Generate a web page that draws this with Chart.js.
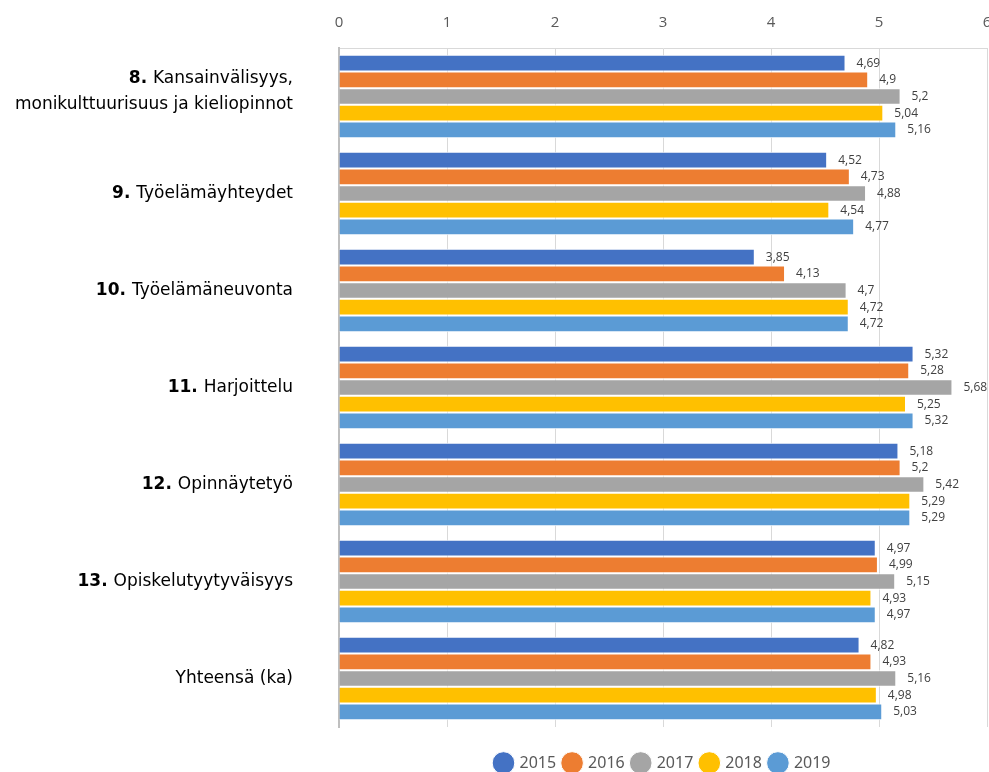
<!DOCTYPE html>
<html>
<head>
<meta charset="utf-8">
<script src="https://cdn.jsdelivr.net/npm/chart.js@4"></script>
<style>
  html, body { margin: 0; padding: 0; background: #fff; }
  #wrap { width: 989px; height: 772px; }
</style>
</head>
<body>
<div id="wrap"><canvas id="c"></canvas></div>
<script>
// Category labels: bold number prefix + plain text (second line optional)
const categoryNumbers = ['8.', '9.', '10.', '11.', '12.', '13.', ''];
const categoryTexts = [
  ['Kansainvälisyys,', 'monikulttuurisuus ja kieliopinnot'],
  ['Työelämäyhteydet'],
  ['Työelämäneuvonta'],
  ['Harjoittelu'],
  ['Opinnäytetyö'],
  ['Opiskelutyytyväisyys'],
  ['Yhteensä (ka)']
];
const years = ['2015', '2016', '2017', '2018', '2019'];
const values2015 = [4.69, 4.52, 3.85, 5.32, 5.18, 4.97, 4.82];
const values2016 = [4.9, 4.73, 4.13, 5.28, 5.2, 4.99, 4.93];
const values2017 = [5.2, 4.88, 4.7, 5.68, 5.42, 5.15, 5.16];
const values2018 = [5.04, 4.54, 4.72, 5.25, 5.29, 4.93, 4.98];
const values2019 = [5.16, 4.77, 4.72, 5.32, 5.29, 4.97, 5.03];
const xTicks = [0, 1, 2, 3, 4, 5, 6];

const seriesValues = [values2015, values2016, values2017, values2018, values2019];
const seriesColors = ['#4472C4', '#ED7D31', '#A5A5A5', '#FFC000', '#5B9BD5'];

const LABEL_FONT = '"DejaVu Sans", sans-serif';
const NUM_FONT = '"Open Sans", sans-serif';

// Draws the category names on the left with a bold number prefix
const categoryLabels = {
  id: 'categoryLabels',
  afterDraw(chart) {
    const ctx = chart.ctx;
    const y = chart.scales.y;
    const right = chart.chartArea.left - 46;
    ctx.save();
    ctx.fillStyle = '#000';
    ctx.textBaseline = 'middle';
    categoryTexts.forEach((lines, i) => {
      const cy = y.getPixelForValue(i);
      const lh = 26;
      const startY = cy - (lines.length - 1) * lh / 2 - (lines.length > 1 ? 5 : 0);
      lines.forEach((line, j) => {
        const ly = startY + j * lh;
        ctx.font = '17px ' + LABEL_FONT;
        const w = ctx.measureText(line).width;
        ctx.textAlign = 'right';
        ctx.fillText(line, right, ly);
        if (j === 0 && categoryNumbers[i]) {
          ctx.font = 'bold 17px ' + LABEL_FONT;
          ctx.fillText(categoryNumbers[i] + ' ', right - w, ly);
        }
      });
    });
    ctx.restore();
  }
};

// Writes each bar's value just past its end
const valueLabels = {
  id: 'valueLabels',
  afterDatasetsDraw(chart) {
    const ctx = chart.ctx;
    ctx.save();
    ctx.font = '12px ' + NUM_FONT;
    ctx.fillStyle = '#404040';
    ctx.textAlign = 'left';
    ctx.textBaseline = 'middle';
    chart.data.datasets.forEach((ds, di) => {
      const meta = chart.getDatasetMeta(di);
      meta.data.forEach((bar, i) => {
        const txt = String(ds.data[i]).replace('.', ',');
        ctx.fillText(txt, bar.x + 11, bar.y);
      });
    });
    ctx.restore();
  }
};

// Moves the legend down a little inside the space kept below the plot
const legendOffset = {
  id: 'legendOffset',
  afterLayout(chart) {
    const lg = chart.legend;
    if (lg) { lg.top += 20; lg.bottom += 20; }
  }
};

new Chart(document.getElementById('c'), {
  type: 'bar',
  data: {
    labels: categoryTexts.map((t, i) => (categoryNumbers[i] + ' ' + t.join(' ')).trim()),
    datasets: years.map((yr, k) => ({
      label: yr,
      data: seriesValues[k],
      backgroundColor: seriesColors[k],
      borderColor: '#ffffff',
      borderWidth: 1,
      categoryPercentage: 0.86,
      barPercentage: 1.0
    }))
  },
  options: {
    indexAxis: 'y',
    responsive: true,
    maintainAspectRatio: false,
    animation: false,
    layout: { padding: { left: 0, right: 2, top: 0, bottom: 11 } },
    scales: {
      x: {
        position: 'top',
        min: 0,
        max: 6,
        afterBuildTicks: s => { s.ticks = xTicks.map(v => ({ value: v })); },
        afterFit: s => { s.height = 48; s.paddingLeft = 0; s.paddingRight = 0; },
        grid: { color: '#D9D9D9', drawTicks: false, lineWidth: 1 },
        border: { display: true, color: '#D9D9D9' },
        ticks: { color: '#595959', font: { family: NUM_FONT, size: 15 }, padding: 16 }
      },
      y: {
        afterFit: s => { s.width = 339; },
        ticks: { display: false },
        grid: { display: false },
        border: { display: true, color: '#BFBFBF', width: 2 }
      }
    },
    plugins: {
      legend: {
        position: 'bottom',
        fullSize: false,
        labels: {
          usePointStyle: true,
          pointStyle: 'circle',
          boxHeight: 16,
          boxWidth: 16,
          padding: 8,
          color: '#595959',
          font: { family: '"Noto Sans", sans-serif', size: 16 }
        }
      },
      tooltip: { enabled: false }
    }
  },
  plugins: [categoryLabels, valueLabels, legendOffset]
});
</script>
</body>
</html>
